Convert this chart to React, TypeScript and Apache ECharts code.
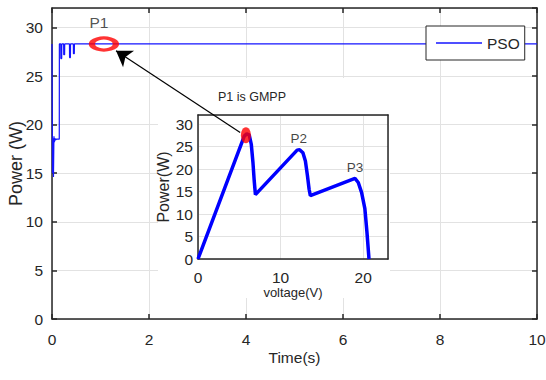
import React, { useEffect, useRef } from "react";
import * as echarts from "echarts";

// Main PSO trace: time (s) vs power (W)
const psoTime = [0, 0.005, 0.01, 0.02, 0.03, 0.04, 0.05, 0.06, 0.07, 0.09, 0.11, 0.13, 0.15, 0.152, 0.18, 0.182, 0.2, 0.202, 0.24, 0.242, 0.26, 0.262, 0.36, 0.362, 0.38, 0.382, 0.44, 0.442, 0.46, 0.462, 10];
const psoPower = [28.3, 28.3, 15, 18.6, 14.6, 18.8, 18.2, 18.6, 18.4, 18.5, 18.5, 18.5, 18.5, 28.3, 28.3, 26.8, 26.8, 28.3, 28.3, 27.2, 27.2, 28.3, 28.3, 26.9, 26.9, 28.3, 28.3, 27.3, 27.3, 28.3, 28.3];

// GMPP marker on main plot
const p1Time = [1.07];
const p1Power = [28.3];

// Arrow from inset GMPP to P1 on main plot
const arrowFrom = [3.88, 19.2];
const arrowTo = [1.32, 27.6];

// Inset P-V curve
const pvVoltage = [0, 5.6, 5.9, 6.2, 6.45, 6.65, 6.8, 6.95, 12.0, 12.3, 12.7, 13.0, 13.25, 13.45, 13.6, 19.0, 19.4, 19.8, 20.2, 20.45, 20.7];
const pvPower = [0, 27.3, 27.8, 27.6, 25.5, 21.5, 17.5, 14.3, 24.2, 24.3, 23.6, 21.8, 18.5, 15.5, 14.1, 17.9, 17.0, 14.8, 11.2, 6.0, 0];

const gmppVoltage = [5.8];
const gmppPower = [27.5];

const peakNames = ["P2", "P3"];
const peakVoltage = [12.2, 19.0];
const peakPower = [24.4, 17.9];

const mainXTicks = { min: 0, max: 10, interval: 2 };
const mainYTicks = { min: 0, max: 32, interval: 5 };
const insetXTicks = { min: 0, max: 23, interval: 10 };
const insetYTicks = { min: 0, max: 32, interval: 5 };

const FONT = "'Liberation Sans', Arial, Helvetica, sans-serif";
const AX = "#262626";
const GRID = "#e2e2e2";

export default function App() {
  const ref = useRef<HTMLDivElement>(null);
  useEffect(() => {
    if (!ref.current) return;
    const chart = echarts.init(ref.current, undefined, { renderer: "svg" });

    const axisBase = (extra: any) => ({
      type: "value",
      nameMoveOverlap: false,
      axisLine: { show: true, onZero: false, lineStyle: { color: AX, width: 1.5 } },
      axisTick: { show: true, inside: true, length: 5, lineStyle: { color: AX, width: 1.5 } },
      splitLine: { show: false },
      axisLabel: { show: false },
      ...extra,
    });

    const option: any = {
      animation: false,
      textStyle: { fontFamily: FONT },
      grid: [
        { left: 52, right: 9, top: 8, bottom: 61, containLabel: false, outerBoundsMode: "none" },
        { left: 198, top: 115, width: 190, height: 144, z: 3, containLabel: false, outerBoundsMode: "none" },
      ],
      legend: {
        data: ["PSO"],
        left: 426,
        top: 26,
        padding: [9, 5, 9, 10],
        backgroundColor: "#fff",
        borderColor: AX,
        borderWidth: 1,
        borderRadius: 0,
        icon: "rect",
        itemWidth: 46,
        itemHeight: 1.5,
        textStyle: { fontSize: 15.5, color: AX, fontFamily: FONT },
      },
      xAxis: [
        axisBase({
          gridIndex: 0, ...mainXTicks, position: "bottom",
          splitLine: { show: true, lineStyle: { color: GRID, width: 1 } },
          axisLabel: { show: true, fontSize: 15.5, color: AX, margin: 12 },
          name: "Time(s)", nameLocation: "middle", nameGap: 30,
          nameTextStyle: { fontSize: 15.5, color: AX, fontFamily: FONT },
        }),
        axisBase({ gridIndex: 0, ...mainXTicks, position: "top" }),
        axisBase({
          gridIndex: 1, ...insetXTicks, position: "bottom", z: 3,
          axisTick: { show: false },
          splitLine: { show: true, lineStyle: { color: GRID, width: 1 } },
          axisLabel: { show: true, fontSize: 15.5, color: AX, margin: 10, showMaxLabel: false },
          name: "voltage(V)", nameLocation: "middle", nameGap: 27,
          nameTextStyle: { fontSize: 13, color: AX, fontFamily: FONT },
        }),
        axisBase({ gridIndex: 1, ...insetXTicks, position: "top", z: 3, axisTick: { show: false } }),
      ],
      yAxis: [
        axisBase({
          gridIndex: 0, ...mainYTicks, position: "left",
          splitLine: { show: true, lineStyle: { color: GRID, width: 1 } },
          axisLabel: { show: true, fontSize: 15.5, color: AX, margin: 9, showMaxLabel: false },
          name: "Power (W)", nameLocation: "middle", nameGap: 27,
          nameTextStyle: { fontSize: 18, color: AX, fontFamily: FONT },
        }),
        axisBase({ gridIndex: 0, ...mainYTicks, position: "right" }),
        axisBase({
          gridIndex: 1, ...insetYTicks, position: "left", z: 3,
          axisTick: { show: false },
          splitLine: { show: true, lineStyle: { color: GRID, width: 1 } },
          axisLabel: { show: true, fontSize: 15.5, color: AX, margin: 5, showMaxLabel: false },
          name: "Power(W)", nameLocation: "middle", nameGap: 27,
          nameTextStyle: { fontSize: 16, color: AX, fontFamily: FONT },
        }),
        axisBase({ gridIndex: 1, ...insetYTicks, position: "right", z: 3, axisTick: { show: false } }),
      ],
      graphic: {
        elements: [
          {
            type: "rect", z: 1, silent: true,
            shape: { x: 158, y: 78, width: 232, height: 220 },
            style: { fill: "#fff" },
          },
          {
            type: "text", z: 5, x: 252, y: 97,
            style: { text: "P1 is GMPP", fontSize: 12.5, fill: AX, align: "center", verticalAlign: "middle", fontFamily: FONT },
          },
        ],
      },
      series: [
        {
          name: "PSO",
          type: "line",
          xAxisIndex: 0, yAxisIndex: 0,
          symbol: "none",
          z: 2,
          lineStyle: { color: "#1414ff", width: 1.2 },
          itemStyle: { color: "#1414ff" },
          data: psoTime.map((t, i) => [t, psoPower[i]]),
          markLine: {
            silent: true,
            z: 6,
            symbol: ["none", "arrow"],
            symbolSize: 15,
            label: { show: false },
            lineStyle: { color: "#000", width: 1.2, type: "solid" },
            itemStyle: { color: "#000" },
            data: [[{ coord: arrowFrom }, { coord: arrowTo }]],
          },
        },
        {
          name: "P1",
          type: "scatter",
          xAxisIndex: 0, yAxisIndex: 0,
          z: 3,
          symbol: "circle",
          symbolSize: [24, 12],
          itemStyle: { color: "rgba(0,0,0,0)", borderColor: "#ff0000", borderWidth: 4.5 },
          label: { show: true, position: "top", distance: 6, offset: [-5, 0], formatter: "P1", fontSize: 15.5, color: AX, fontFamily: FONT },
          data: p1Time.map((t, i) => [t, p1Power[i]]),
        },
        {
          name: "PV",
          type: "line",
          xAxisIndex: 2, yAxisIndex: 2,
          symbol: "none",
          z: 4,
          lineStyle: { color: "#0000ff", width: 3.5 },
          data: pvVoltage.map((v, i) => [v, pvPower[i]]),
        },
        {
          name: "GMPP",
          type: "scatter",
          xAxisIndex: 2, yAxisIndex: 2,
          z: 5,
          symbol: "circle",
          symbolSize: [10, 16],
          itemStyle: { color: "#ff0000" },
          data: gmppVoltage.map((v, i) => [v, gmppPower[i]]),
        },
        {
          name: "Peaks",
          type: "scatter",
          xAxisIndex: 2, yAxisIndex: 2,
          z: 5,
          symbolSize: 0,
          label: { show: true, position: "top", distance: 4, formatter: (p: any) => peakNames[p.dataIndex], fontSize: 13.5, color: "#111", fontFamily: FONT },
          data: peakVoltage.map((v, i) => [v, peakPower[i]]),
        },
      ],
    };
    chart.setOption(option);
    return () => chart.dispose();
  }, []);
  return <div ref={ref} style={{ width: 546, height: 380, position: "absolute", left: 0, top: 0, background: "#fff" }} />;
}
